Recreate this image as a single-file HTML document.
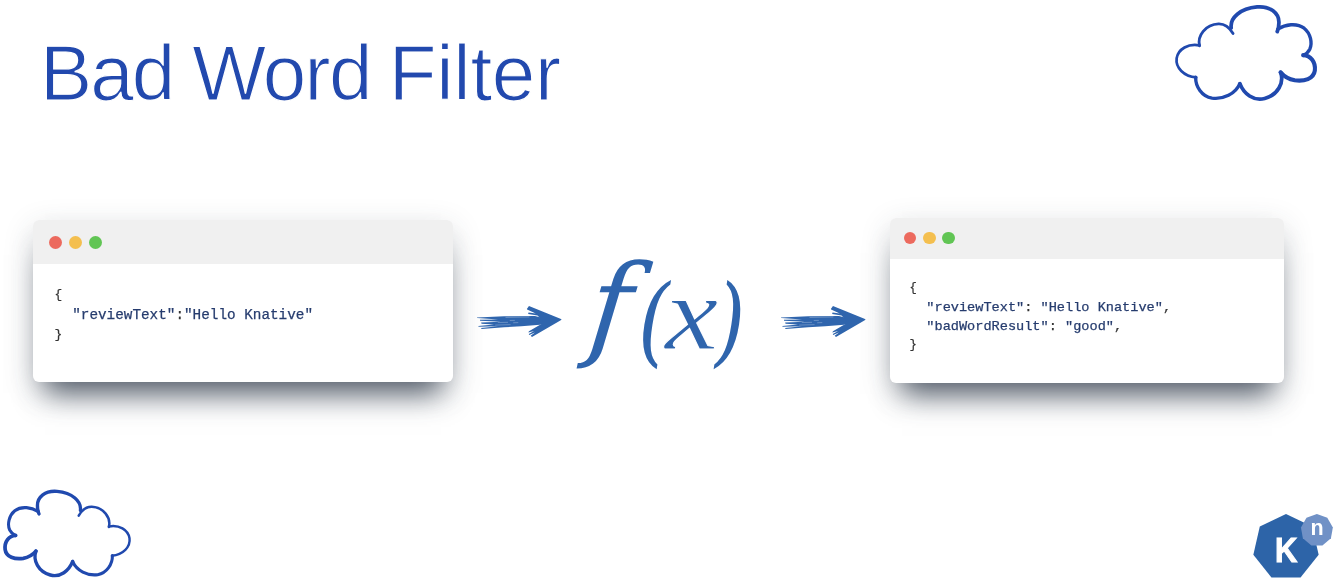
<!DOCTYPE html>
<html lang="en">
<head>
<meta charset="utf-8">
<title>Bad Word Filter</title>
<style>
html,body{margin:0;padding:0;background:#fff;}
body{width:1341px;height:585px;position:relative;overflow:hidden;font-family:"Liberation Sans",sans-serif;}
.title{position:absolute;left:40.4px;top:27.5px;margin:0;font-weight:400;font-size:78.2px;line-height:90px;letter-spacing:-1.7px;color:#2249ae;white-space:nowrap;will-change:transform;-webkit-text-stroke:1.2px #fff;}
.win{position:absolute;background:#fff;border-radius:6px;box-shadow:0 23px 28px -12px rgba(48,58,74,.82),0 8px 30px 0 rgba(48,58,74,.17);}
.win .bar{position:absolute;left:0;top:0;right:0;background:#f0f0f0;border-radius:6px 6px 0 0;}
.win .dot{position:absolute;border-radius:50%;}
.win pre{position:absolute;margin:0;font-family:"Liberation Mono",monospace;color:#263c6e;white-space:pre;will-change:transform;-webkit-text-stroke:0.25px currentColor;}
.win pre .p{color:#333;}
.win pre .b{display:inline-block;transform-origin:50% 58%;transform:translate(-1px,-0.5px) scale(0.9,0.88);}
#w1{left:33px;top:220.3px;width:420.3px;height:161.3px;}
#w1 .bar{height:43.4px;}
#w1 .dot{width:13px;height:13px;top:15.4px;}
#w1 pre{left:21.5px;top:64.6px;font-size:14.33px;line-height:20px;}
#w2{left:889.8px;top:217.6px;width:394px;height:165.2px;}
#w2 .bar{height:41px;}
#w2 .dot{width:12.3px;height:12.3px;top:14.5px;}
#w2 pre{left:20.2px;top:61.4px;font-size:13.6px;line-height:19.1px;}
.fx{position:absolute;display:block;color:#2f65ad;font-family:"Liberation Serif",serif;font-style:italic;white-space:nowrap;line-height:1;}
svg{position:absolute;overflow:visible;}
</style>
</head>
<body>
<h1 class="title"><span style="letter-spacing:-2px">Bad</span> <span style="margin-left:-1px">Word</span> <span style="margin-left:-2px;letter-spacing:-0.3px">Filter</span></h1>

<div class="win" id="w1">
  <div class="bar"></div>
  <span class="dot" style="left:15.5px;background:#ec6a5e"></span>
  <span class="dot" style="left:35.8px;background:#f4bf4f"></span>
  <span class="dot" style="left:55.9px;background:#61c554"></span>
<pre><span class="p b">{</span>
  "reviewText"<span class="p">:</span>"Hello Knative"
<span class="p b">}</span></pre>
</div>

<div class="win" id="w2">
  <div class="bar"></div>
  <span class="dot" style="left:14.4px;background:#ec6a5e"></span>
  <span class="dot" style="left:33.5px;background:#f4bf4f"></span>
  <span class="dot" style="left:52.6px;background:#61c554"></span>
<pre><span class="p b">{</span>
  "reviewText"<span class="p">:</span> "Hello Knative"<span class="p">,</span>
  "badWordResult"<span class="p">:</span> "good"<span class="p">,</span>
<span class="p b">}</span></pre>
</div>

<div id="fx"><span class="fx" id="f" style="left:595.6px;top:250.4px;font-size:113px;font-family:'DejaVu Serif',serif;transform-origin:0 0;transform:skewX(-6deg);">f</span><span class="fx" id="p1" style="left:637.5px;top:273.4px;font-size:96.5px;font-family:'DejaVu Serif',serif;transform-origin:0 0;transform:scaleX(0.84);">(</span><span class="fx" id="x" style="left:664.6px;top:261px;font-size:106px;transform-origin:0 0;transform:scaleX(1.13);-webkit-text-stroke:1px #fff;">x</span><span class="fx" id="p2" style="left:714.6px;top:273.4px;font-size:96.5px;font-family:'DejaVu Serif',serif;transform-origin:0 0;transform:scaleX(0.8);">)</span></div>

<svg id="a1" style="left:470px;top:295px;" width="100" height="50" viewBox="0 0 1170 585" fill="#2f65ad">
<polygon points="80,262 400,250 760,246 900,280 900,320 820,348 600,365 400,378 135,398 130,386 330,366 100,372 98,362 280,346 135,335 130,322 360,314 118,300 116,290 330,286 85,270"/>
<polygon points="665,165 690,128 1072,283 1062,296 725,490 710,478 760,440 692,468 688,455 750,420 682,438 690,425 835,340 850,300 790,240 680,222 685,205 770,215 668,170"/>
<g stroke="#fff" stroke-opacity=".45" stroke-width="7" stroke-linecap="round" fill="none"><path d="M420,263 L690,257"/><path d="M470,298 L520,297"/><path d="M330,322 L440,320 M510,325 L560,323"/><path d="M300,352 L470,347"/></g>
</svg>
<svg id="a2" style="left:774.15px;top:295px;" width="100" height="50" viewBox="0 0 1170 585" fill="#2f65ad">
<polygon points="80,262 400,250 760,246 900,280 900,320 820,348 600,365 400,378 135,398 130,386 330,366 100,372 98,362 280,346 135,335 130,322 360,314 118,300 116,290 330,286 85,270"/>
<polygon points="665,165 690,128 1072,283 1062,296 725,490 710,478 760,440 692,468 688,455 750,420 682,438 690,425 835,340 850,300 790,240 680,222 685,205 770,215 668,170"/>
<g stroke="#fff" stroke-opacity=".45" stroke-width="7" stroke-linecap="round" fill="none"><path d="M420,263 L690,257"/><path d="M470,298 L520,297"/><path d="M330,322 L440,320 M510,325 L560,323"/><path d="M300,352 L470,347"/></g>
</svg>

<svg id="c1" style="left:1165px;top:0px;" width="160" height="110" viewBox="0 0 851 585" fill="none" stroke="#2049ae" stroke-width="17" stroke-linecap="round" stroke-linejoin="round">
<path stroke-width="20" d="M352,148 C345,95 400,45 490,37 C560,31 607,70 606,120 C606,140 603,155 597,168"/>
<path stroke-width="18" d="M600,155 C640,130 700,120 740,150 C775,178 785,230 770,262 C762,278 750,288 735,295"/>
<path stroke-width="22" d="M735,293 C775,295 802,330 797,375 C791,420 740,434 690,427 C655,421 632,405 615,385"/>
<path stroke-width="20" d="M615,385 C635,440 600,505 530,524 C470,539 420,500 398,445"/>
<path stroke-width="18" d="M398,445 C375,500 310,530 250,522 C195,512 162,460 163,410"/>
<path stroke-width="14.5" d="M166,412 C100,405 55,360 62,310 C70,260 125,230 183,241"/>
<path stroke-width="15" d="M184,244 C170,190 215,130 285,127 C320,126 345,150 362,178"/>
</svg>
<svg id="c2" style="left:-4.5px;top:484.5px;" width="144" height="100.5" viewBox="0 0 851 585" preserveAspectRatio="none" fill="none" stroke="#2049ae" stroke-width="17.5" stroke-linecap="round" stroke-linejoin="round">
<g transform="translate(851,0) scale(-1,1)">
<path stroke-width="20" d="M352,148 C345,95 400,45 490,37 C560,31 607,70 606,120 C606,140 603,155 597,168"/>
<path stroke-width="18" d="M600,155 C640,130 700,120 740,150 C775,178 785,230 770,262 C762,278 750,288 735,295"/>
<path stroke-width="22" d="M735,293 C775,295 802,330 797,375 C791,420 740,434 690,427 C655,421 632,405 615,385"/>
<path stroke-width="20" d="M615,385 C635,440 600,505 530,524 C470,539 420,500 398,445"/>
<path stroke-width="18" d="M398,445 C375,500 310,530 250,522 C195,512 162,460 163,410"/>
<path stroke-width="14.5" d="M166,412 C100,405 55,360 62,310 C70,260 125,230 183,241"/>
<path stroke-width="15" d="M184,244 C170,190 215,130 285,127 C320,126 345,150 362,178"/>
</g>
</svg>

<svg id="logo" style="left:0;top:0;will-change:transform;" width="1341" height="585" viewBox="0 0 1341 585">
<polygon points="1286.00,513.90 1312.19,526.51 1318.66,554.85 1300.54,577.58 1271.46,577.58 1253.34,554.85 1259.81,526.51" fill="#2d64a8"/>
<polygon points="1316.90,514.05 1327.31,517.84 1332.85,527.44 1330.93,538.35 1322.44,545.47 1311.36,545.47 1302.87,538.35 1300.95,527.44 1306.49,517.84" fill="#7091c6"/>
<text id="tk" x="0" y="0" transform="translate(1286.1,561.5) scale(0.86,1)" text-anchor="middle" font-family="Liberation Sans, sans-serif" font-weight="700" font-size="36" fill="#fff" stroke="#fff" stroke-width="1.1" stroke-linejoin="miter">K</text>
<text id="tn" x="1317.1" y="535.1" text-anchor="middle" font-family="Liberation Sans, sans-serif" font-weight="700" font-size="21.5" fill="#fff">n</text>
</svg>

</body>
</html>
